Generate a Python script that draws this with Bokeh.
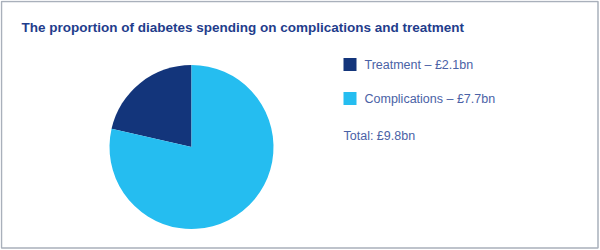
import math
from bokeh.plotting import figure
from bokeh.models import Range1d, ColumnDataSource
from bokeh.core.properties import value
from bokeh.embed import file_html
from bokeh.resources import INLINE

# Spending on diabetes, £bn
categories = ["Treatment", "Complications"]
spend_bn = [2.1, 7.7]
colors = ["#13357b", "#25bdf0"]
title_text = "The proportion of diabetes spending on complications and treatment"

W, H = 600, 250
total = sum(spend_bn)

p = figure(width=W, height=H, output_backend="svg", toolbar_location=None,
           x_range=Range1d(0, W), y_range=Range1d(0, H), min_border=0)
p.axis.visible = False
p.grid.visible = False
p.outline_line_color = None
p.background_fill_color = "white"
p.border_fill_color = "white"

# frame around the panel
p.quad(left=[1], right=[597.5], bottom=[H - 247.5], top=[H - 1],
       fill_color=None, line_color="#a9b0bb", line_width=1.5)

# title
p.text(x=[21], y=[H - 27], text=[title_text], text_font=value("Liberation Sans"),
       text_font_style="bold", text_font_size="13.5px", text_color="#1f3d8c",
       text_baseline="middle")

# pie: slices start at 12 o'clock and run anticlockwise
starts, ends = [], []
acc = math.pi / 2
for v in spend_bn:
    starts.append(acc)
    acc += v / total * 2 * math.pi
    ends.append(acc)
src = ColumnDataSource(dict(start=starts, end=ends, color=colors))
p.wedge(x=191, y=H - 146.5, radius=82, start_angle="start", end_angle="end",
        fill_color="color", line_color=None, source=src)

# legend
labels = [f"{c} – £{v:.1f}bn" for c, v in zip(categories, spend_bn)]
ly = [H - 64, H - 98]
p.rect(x=[349.5] * 2, y=ly, width=13, height=13, fill_color=colors, line_color=None)
p.text(x=[364] * 2, y=ly, text=labels, text_font=value("Liberation Sans"),
       text_font_size="12.5px", text_color="#4a62a6", text_baseline="middle")
p.text(x=[343], y=[H - 135], text=[f"Total: £{total:.1f}bn"],
       text_font=value("Liberation Sans"), text_font_size="12.5px",
       text_color="#4a62a6", text_baseline="middle")

open("out.html", "w").write(file_html(p, INLINE))
